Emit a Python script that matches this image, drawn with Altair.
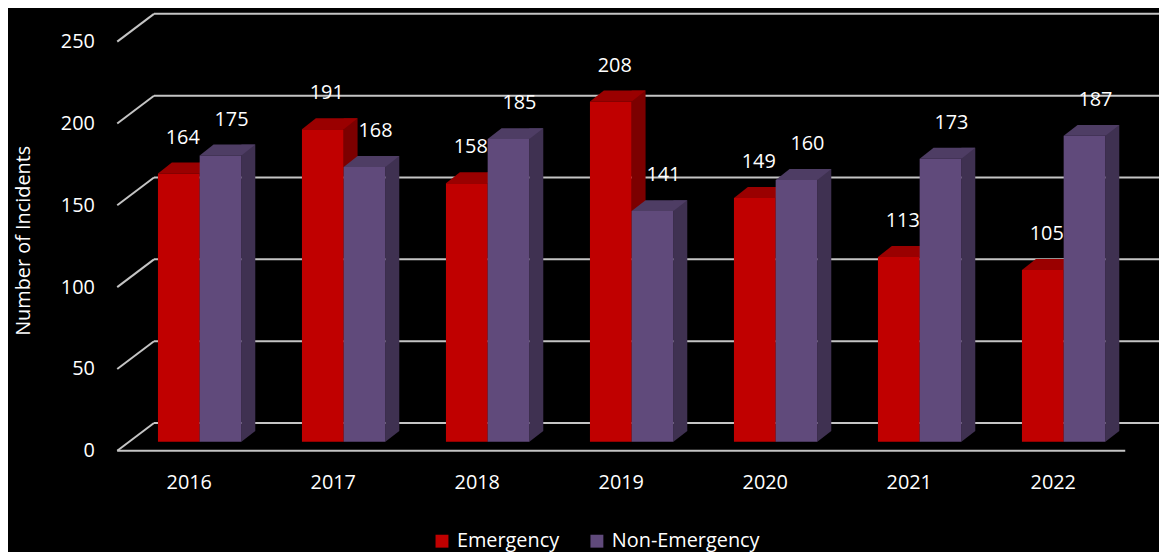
import altair as alt
import pandas as pd

years = ["2016", "2017", "2018", "2019", "2020", "2021", "2022"]
emergency = [164, 191, 158, 208, 149, 113, 105]
non_emergency = [175, 168, 185, 141, 160, 173, 187]
series_names = ["Emergency", "Non-Emergency"]
y_ticks = [0, 50, 100, 150, 200, 250]

FONT = "Open Sans"
GRID = "#c4c4c4"
FRONT = {"Emergency": "#C00000", "Non-Emergency": "#604A7B"}
TOP = {"Emergency": "#9a0000", "Non-Emergency": "#4e3d64"}
SIDE = {"Emergency": "#7c0000", "Non-Emergency": "#3f3151"}

W, H = 1015, 412
DX, DY = 37, 28          # wall depth
BW, BD, BH = 42, 14, 11  # bar width, bar depth (x, y)
LIFT = 9                 # bars sit slightly behind the front plane
CENTER = {"Emergency": -10.5, "Non-Emergency": 31.5}
LABEL_SHIFT = {"Emergency": 4, "Non-Emergency": 11}

rows = []
for i, yr in enumerate(years):
    rows.append({"year": yr, "series": "Emergency", "value": emergency[i]})
    rows.append({"year": yr, "series": "Non-Emergency", "value": non_emergency[i]})
df = pd.DataFrame(rows)
ticks_df = pd.DataFrame({"tick": y_ticks})

yscale = alt.Scale(domain=[0, 250], nice=False, zero=True)
xscale = alt.Scale(domain=years, paddingInner=0, paddingOuter=0)

yaxis = alt.Axis(title="Number of Incidents", values=y_ticks, domain=False,
                 ticks=False, tickSize=0, grid=False, labelPadding=23,
                 labelFontSize=20, labelFont=FONT, labelColor="white",
                 titleFont=FONT, titleFontSize=20, titleColor="white",
                 titleFontWeight="normal", titleAngle=-90, titleX=-94,
                 titleY=H / 2 - 6, titleAlign="center", titleBaseline="middle")
xaxis = alt.Axis(title=None, labelAngle=0, domain=False, ticks=False, tickSize=0,
                 labelPadding=22, labelFontSize=20, labelFont=FONT,
                 labelColor="white", grid=False)


def Y(field):
    return alt.Y(field, scale=yscale, axis=yaxis, title="Number of Incidents")


def X():
    return alt.X("year:N", scale=xscale, axis=xaxis, title=None)


grid_slant = alt.Chart(ticks_df).mark_rule(color=GRID, strokeWidth=2, y2Offset=-DY).encode(
    x=alt.value(0), x2=alt.value(DX),
    y=Y("tick:Q"), y2=alt.Y2("tick:Q"),
)
grid_back = alt.Chart(ticks_df).mark_rule(color=GRID, strokeWidth=2, yOffset=-DY).encode(
    x=alt.value(DX), x2=alt.value(W + 34),
    y=Y("tick:Q"),
)
floor_front = alt.Chart(ticks_df).transform_filter("datum.tick == 0").mark_rule(
    color=GRID, strokeWidth=2).encode(
    x=alt.value(0), x2=alt.value(W),
    y=Y("tick:Q"),
)

layers = [grid_slant, grid_back, floor_front]

top_path = f"M0,0 L{BW},0 L{BW + BD},{-BH} L{BD},{-BH} Z"
tri_path = f"M0,0 L0,{-BH} L{BD},{-BH} Z"

for s in series_names:
    base = alt.Chart(df).transform_filter(alt.datum.series == s)
    c = CENTER[s]
    side = base.mark_bar(width=BD, xOffset=c + BW / 2 + BD / 2, yOffset=-(LIFT + BH),
                         color=SIDE[s]).encode(x=X(), y=Y("value:Q"))
    tri = base.transform_calculate(zero="0").mark_point(
        shape=tri_path, size=4, filled=True, opacity=1, strokeWidth=0,
        color=SIDE[s], xOffset=c + BW / 2, yOffset=-LIFT).encode(x=X(), y=Y("zero:Q"))
    top = base.mark_point(shape=top_path, size=4, filled=True, opacity=1, strokeWidth=0,
                          color=TOP[s], xOffset=c - BW / 2, yOffset=-LIFT).encode(
        x=X(), y=Y("value:Q"))
    front = base.mark_bar(width=BW, xOffset=c, yOffset=-LIFT).encode(
        x=X(), y=Y("value:Q"),
        color=alt.Color("series:N",
                        scale=alt.Scale(domain=series_names,
                                        range=[FRONT[n] for n in series_names]),
                        legend=alt.Legend(title=None, orient="none", direction="horizontal",
                                          legendX=317, legendY=493, symbolType="square",
                                          symbolSize=169, symbolStrokeWidth=0,
                                          labelFont=FONT, labelFontSize=20,
                                          labelColor="white", labelOffset=5,
                                          columnPadding=28)),
    )
    label = base.mark_text(font=FONT, fontSize=20, color="white", baseline="middle",
                           align="center", xOffset=c + LABEL_SHIFT[s],
                           dy=-(LIFT + 36)).encode(
        x=X(), y=Y("value:Q"), text=alt.Text("value:Q"),
    )
    layers += [side, tri, top, front, label]

chart = alt.layer(*layers).properties(
    width=W, height=H,
    padding={"left": 110, "top": 32, "right": 34, "bottom": 100},
    autosize=alt.AutoSizeParams(type="none"),
    background="black",
).configure_view(stroke=None)

chart.save("out.html", embed_options={"renderer": "svg", "actions": False})
